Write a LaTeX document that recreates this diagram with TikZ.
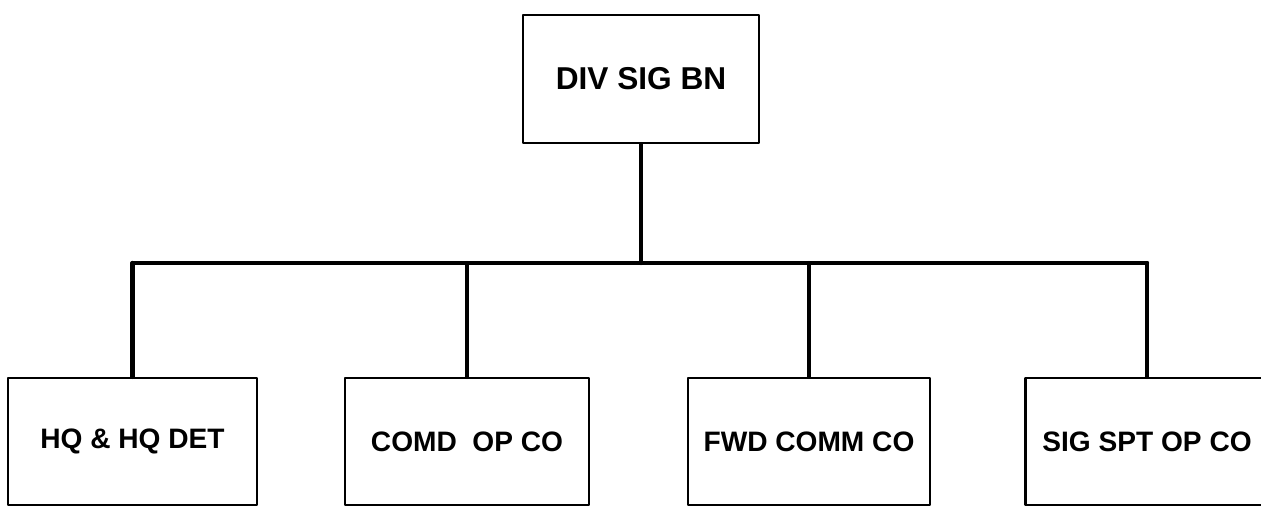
\documentclass[tikz,border=0pt]{standalone}
\usepackage{fontspec}
\setmainfont{Liberation Sans}
\usetikzlibrary{positioning}
\tikzset{
  unitbox/.style={draw, line width=1.2pt, rectangle, inner sep=0pt, font=\bfseries\fontsize{16}{18}\selectfont},
  topbox/.style={unitbox, minimum width=4.72cm, minimum height=2.56cm, font=\bfseries\fontsize{18}{20}\selectfont},
  lowbox/.style={unitbox, minimum height=2.54cm},
  link/.style={line width=2.4pt}
}
\begin{document}
\begin{tikzpicture}[x=0.02cm, y=-0.02cm, line join=round, line cap=round]
				\useasboundingbox (0,0) rectangle (1261,507);
				\clip (0,0) rectangle (1261,507);
				% battalion
				\node[topbox] (div) at (641,79) {DIV SIG BN};
				% companies
				\node[lowbox, minimum width=4.98cm] (hq)  at (132.5,441.5) {HQ \& HQ DET};
				\node[lowbox, minimum width=4.88cm] (comd) at (467,441.5) {COMD\ \ OP CO};
				\node[lowbox, minimum width=4.84cm] (fwd) at (809,441.5) {FWD COMM CO};
				\node[lowbox, minimum width=4.86cm] (spt) at (1147,441.5) {SIG SPT OP CO};
				\coordinate (bar) at (641,263);
				% lines
				\draw[link] (div.south) -- (bar);
				\draw[link] (hq.north |- bar) -- (spt.north |- bar);
				\draw[link] (hq.north) -- (hq.north |- bar);
				\draw[link] (comd.north) -- (comd.north |- bar);
				\draw[link] (fwd.north) -- (fwd.north |- bar);
				\draw[link] (spt.north) -- (spt.north |- bar);
\end{tikzpicture}
\end{document}
